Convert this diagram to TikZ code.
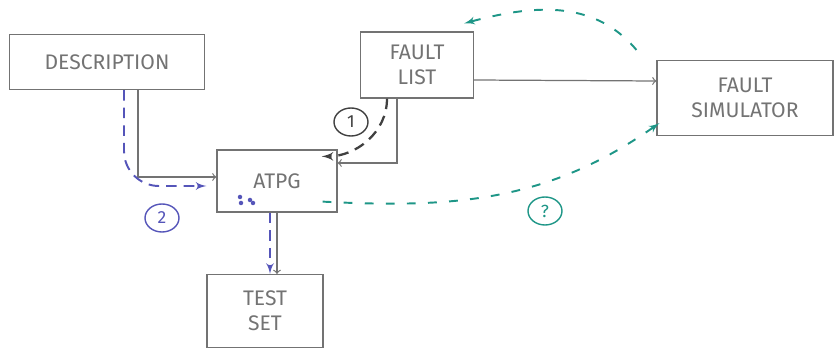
\documentclass[tikz,border=0pt]{standalone}
\usepackage{fontspec}
\setmainfont{Fira Sans}
\usetikzlibrary{shapes,arrows,positioning,calc}
\definecolor{penblue}{RGB}{85,85,185}
\definecolor{pengreen}{RGB}{30,150,135}
\definecolor{pengray}{RGB}{115,115,115}
\tikzset{
    box/.style={rectangle, draw=pengray, text=pengray, align=center, font=\large, line width=0.7pt, inner sep=2pt},
    line/.style={draw, ->, pengray, line width=0.7pt},
    pathone/.style={draw, -latex', black!75, line width=1.3pt, dash pattern=on 6pt off 4pt},
    pathtwo/.style={draw, -latex', penblue, line width=1.1pt, dash pattern=on 6pt off 4pt},
    pathq/.style={draw, -latex', pengreen, line width=1.1pt, dash pattern=on 5pt off 7pt},
    tag/.style={ellipse, draw, inner sep=1pt, minimum width=0.68cm, minimum height=0.56cm, font=\normalsize, line width=0.8pt}
}

\begin{document}
\begin{tikzpicture}
    \useasboundingbox (0,0) rectangle (16.7,-7.02);
    \node [box, minimum width=3.9cm, minimum height=1.1cm] (desc) at (2.14,-1.24) {DESCRIPTION};
    \node [box, minimum width=2.26cm, minimum height=1.32cm, right of=desc, node distance=6.2cm, yshift=-0.06cm] (flist) {FAULT\\LIST};
    \node [box, minimum width=3.52cm, minimum height=1.5cm, right of=flist, node distance=6.56cm, yshift=-0.66cm] (fsim) {FAULT\\SIMULATOR};
    \node [box, minimum width=2.4cm, minimum height=1.24cm, below of=desc, node distance=2.38cm, xshift=3.4cm] (atpg) {ATPG};
    \node [box, minimum width=2.32cm, minimum height=1.46cm, below of=atpg, node distance=2.6cm, xshift=-0.24cm] (tset) {TEST\\SET};

    % plain flow
    \path [line] ([xshift=0.62cm]desc.south) |- ([yshift=0.08cm]atpg.west);
    \path [line] ([xshift=-0.4cm]flist.south) |- ([yshift=0.36cm]atpg.east);
    \path [line] ([yshift=-0.3cm]flist.east) -- ([yshift=0.34cm]fsim.west);
    \path [line] (atpg.south) -- (atpg.south |- tset.north);

    % numbered steps
    \path [pathone] ([xshift=-0.6cm]flist.south) to[out=-90, in=0] ([xshift=-0.32cm, yshift=-0.14cm]atpg.north east);
    \path [pathtwo, rounded corners=0.7cm] ([xshift=0.34cm]desc.south) |- ([xshift=-0.2cm, yshift=-0.1cm]atpg.west);
    \path [pathtwo] ([xshift=-0.14cm]atpg.south) -- ([xshift=-0.14cm]atpg.south |- tset.north);
    \path [pathq] ([xshift=-0.3cm, yshift=0.22cm]atpg.south east) to[out=-3, in=215] ([xshift=0.06cm, yshift=0.26cm]fsim.south west);
    \path [pathq] ([xshift=-0.4cm, yshift=0.2cm]fsim.north west) to[out=130, in=15] ([xshift=-0.2cm, yshift=0.16cm]flist.north east);

    \foreach \dx/\dy in {-0.74/-0.32, -0.72/-0.44, -0.54/-0.38, -0.48/-0.44}
        \fill [penblue] ([xshift=\dx cm, yshift=\dy cm]atpg.center) circle (0.045cm);

    \node [tag, black!75] (one) at (7.02,-2.44) {1};
    \node [tag, penblue] (two) at (3.24,-4.36) {2};
    \node [tag, pengreen] (three) at (10.9,-4.22) {?};
\end{tikzpicture}
\end{document}
